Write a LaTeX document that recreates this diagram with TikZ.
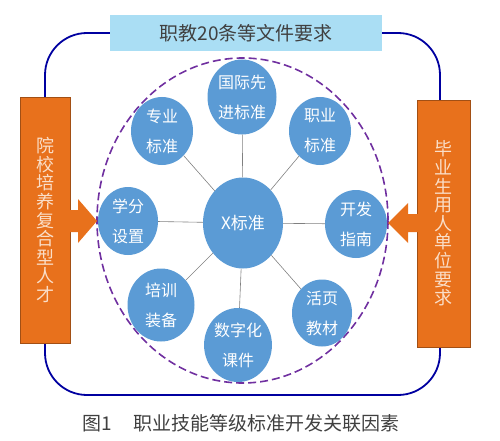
\documentclass[tikz,border=0pt]{standalone}
\usepackage{fontspec}
\setmainfont{Noto Sans CJK SC}
\usetikzlibrary{calc,shapes.geometric}
\definecolor{loopblue}{RGB}{0,0,160}
\definecolor{ballblue}{RGB}{91,155,213}
\definecolor{docblue}{RGB}{170,222,244}
\definecolor{sideorange}{RGB}{232,113,28}
\definecolor{sidetext}{RGB}{250,222,200}
\definecolor{ringpurple}{RGB}{112,48,160}
\definecolor{darktext}{RGB}{64,64,64}
\tikzset{
  ball/.style={ellipse, fill=ballblue, text=white, inner sep=0pt, minimum width=62pt, minimum height=68pt, align=center, font=\fontsize{16}{30}\selectfont},
  sidebox/.style={rectangle, fill=sideorange, draw=sideorange!70!black, line width=0.5pt, text=sidetext, align=center, inner sep=0pt, font=\fontsize{18}{18.6}\selectfont},
  spoke/.style={draw=gray, line width=0.6pt}
}
\begin{document}
\begin{tikzpicture}[x=1pt,y=-1pt]
\useasboundingbox (0,0) rectangle (500,441);
\draw[loopblue, line width=1.8pt, rounded corners=42pt] (45,33) rectangle (440,395);
\draw[ringpurple, line width=1.6pt, dash pattern=on 8pt off 4pt] (242.5,220.5) ellipse [x radius=145.5pt, y radius=162.5pt];
\node[fill=docblue, text=darktext, minimum width=272pt, minimum height=36pt, inner sep=0pt, font=\fontsize{19}{19}\selectfont] (docs) at (246,33) {职教20条等文件要求};
\node[sidebox, minimum width=50pt, minimum height=246pt] (school) at (45,220) {院\\校\\培\\养\\复\\合\\型\\人\\才};
\node[sidebox, minimum width=53pt, minimum height=247pt] (employer) at (443.5,223.5) {毕\\业\\生\\用\\人\\单\\位\\要\\求};
\coordinate (ltip) at (97,221);
\coordinate (rtip) at (388,223);
\fill[sideorange] (ltip) -- ++(-19,-22) -- ++(0,11) -- ++(-9,0) -- ++(0,22) -- ++(9,0) -- ++(0,11) -- cycle;
\fill[sideorange] (rtip) -- ++(20,-20) -- ++(0,11) -- ++(10,0) -- ++(0,18) -- ++(-10,0) -- ++(0,11) -- cycle;
\node[ball, minimum width=80pt, minimum height=91pt, font=\fontsize{17}{17}\selectfont] (hub) at (243,223) {X标准};
\node[ball, minimum width=69pt, minimum height=75pt] (intl) at (242,97) {国际先\\进标准};
\node[ball] (major) at (162,131) {专业\\标准};
\node[ball] (job) at (320,131) {职业\\标准};
\node[ball, minimum width=60pt] (credit) at (128,221) {学分\\设置};
\node[ball] (guide) at (356,224) {开发\\指南};
\node[ball, minimum width=67pt, minimum height=73pt] (train) at (161,305) {培训\\装备};
\node[ball, minimum width=67pt, minimum height=74pt] (digital) at (238,345) {数字化\\课件};
\node[ball, minimum width=60pt, minimum height=67pt] (leaflet) at (322,313) {活页\\教材};
\foreach \n in {intl,major,job,credit,guide,train,digital,leaflet}
  \draw[spoke] (hub) -- (\n);
\node[text=darktext, font=\fontsize{19}{19}\selectfont] (caption) at (241,423) {图1\hspace{1.1em}职业技能等级标准开发关联因素};
\end{tikzpicture}
\end{document}
